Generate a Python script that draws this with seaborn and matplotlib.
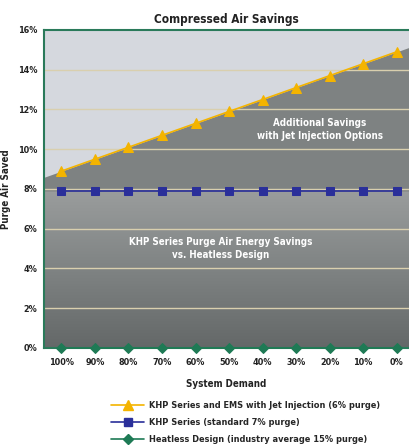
import numpy as np
import pandas as pd
import matplotlib
matplotlib.use("Agg")
import matplotlib.pyplot as plt
import seaborn as sns
from matplotlib.lines import Line2D
from matplotlib.colors import LinearSegmentedColormap

demand_labels = ["100%", "90%", "80%", "70%", "60%", "50%", "40%", "30%", "20%", "10%", "0%"]
jet_injection = [8.9, 9.5, 10.1, 10.7, 11.3, 11.9, 12.5, 13.1, 13.7, 14.3, 14.9]
khp_standard = [7.9, 7.9, 7.9, 7.9, 7.9, 7.9, 7.9, 7.9, 7.9, 7.9, 7.9]
heatless = [0, 0, 0, 0, 0, 0, 0, 0, 0, 0, 0]
y_ticks = [0, 2, 4, 6, 8, 10, 12, 14, 16]

series_names = ["KHP Series and EMS with Jet Injection (6% purge)",
                "KHP Series (standard 7% purge)",
                "Heatless Design (industry average 15% purge)"]

sns.set_theme(style="white")
plt.rcParams["font.family"] = ["DejaVu Sans"]
plt.rcParams["font.stretch"] = "condensed"
plt.rcParams["font.weight"] = "bold"

fig = plt.figure(figsize=(4.09, 4.45), dpi=100)
ax = fig.add_axes([0.1076, 0.2180, 0.8924, 0.7146])

x = np.arange(len(demand_labels))
xmin, xmax = -0.52, 10.37

ax.set_facecolor("#d5d8de")
jet = np.array(jet_injection, dtype=float)
left_y = jet[0] + (jet[0] - jet[1]) * (x[0] - xmin)
right_y = jet[-1] + (jet[-1] - jet[-2]) * (xmax - x[-1])
xf = np.concatenate([[xmin], x, [xmax]])
yf = np.concatenate([[left_y], jet, [right_y]])
blue = khp_standard[0]
ax.fill_between(xf, blue, yf, color="#7e8282", zorder=0.5, lw=0)
grad = np.linspace(0, 1, 256).reshape(-1, 1)
cmap = LinearSegmentedColormap.from_list("g", ["#646868", "#7f8383", "#9a9d9d"])
ax.imshow(grad, extent=[xmin, xmax, 0, blue], origin="lower", aspect="auto",
          cmap=cmap, zorder=0.4)
ax.set_xlim(xmin, xmax)
ax.set_ylim(0, 16)

for yv in y_ticks[1:-1]:
    ax.axhline(yv, color="#d9cfae", lw=1.0, zorder=1)

df = pd.DataFrame({"x": np.tile(x, 3),
                   "v": jet_injection + khp_standard + heatless,
                   "s": np.repeat(series_names, len(x))})
colors = ["#f4b400", "#2a2f9a", "#1e7a55"]
markers = ["^", "s", "D"]
msizes = [6.5, 5.2, 5.5]
for name, c, m, ms in zip(series_names, colors, markers, msizes):
    sub = df[df.s == name]
    sns.lineplot(data=sub, x="x", y="v", color=c, lw=1.2, marker=m,
                 markersize=ms, markeredgecolor=c, ax=ax, zorder=3,
                 clip_on=False, legend=False)

ax.set_xticks(x)
ax.set_xticklabels(demand_labels)
ax.set_yticks(y_ticks)
ax.set_yticklabels([f"{v}%" for v in y_ticks])
ax.tick_params(axis="both", length=0, labelsize=6.5, colors="#222222")
ax.tick_params(axis="x", pad=7)
ax.tick_params(axis="y", pad=5)
for lab in ax.get_xticklabels() + ax.get_yticklabels():
    lab.set_fontweight("bold")

for side in ["left", "top", "bottom"]:
    ax.spines[side].set_color("#2a7a5a")
    ax.spines[side].set_linewidth(1.5)
ax.spines["right"].set_visible(False)

ax.set_xlabel("System Demand", fontsize=7, fontweight="bold", labelpad=9, color="#222222")
ax.set_ylabel("Purge Air Saved", fontsize=7, fontweight="bold", labelpad=5, color="#222222")
ax.set_title("Compressed Air Savings", fontsize=8.5, fontweight="bold", pad=5, color="#222222")

ax.text(7.7, 11.0, "Additional Savings\nwith Jet Injection Options", color="white",
        fontsize=7, fontweight="bold", ha="center", va="center", linespacing=1.3, zorder=4)
ax.text(4.75, 5.0, "KHP Series Purge Air Energy Savings\nvs. Heatless Design", color="white",
        fontsize=7, fontweight="bold", ha="center", va="center", linespacing=1.3, zorder=4)

handles = [Line2D([], [], color=c, marker=m, markersize=ms, lw=1.2, markeredgecolor=c)
           for c, m, ms in zip(colors, markers, msizes)]
fig.legend(handles, series_names, loc="upper left", bbox_to_anchor=(0.272, 0.098),
           frameon=False, fontsize=6.6, handlelength=3.6, handletextpad=0.5,
           labelspacing=0.85, borderaxespad=0, borderpad=0)

fig.savefig("out.png", dpi=100)
